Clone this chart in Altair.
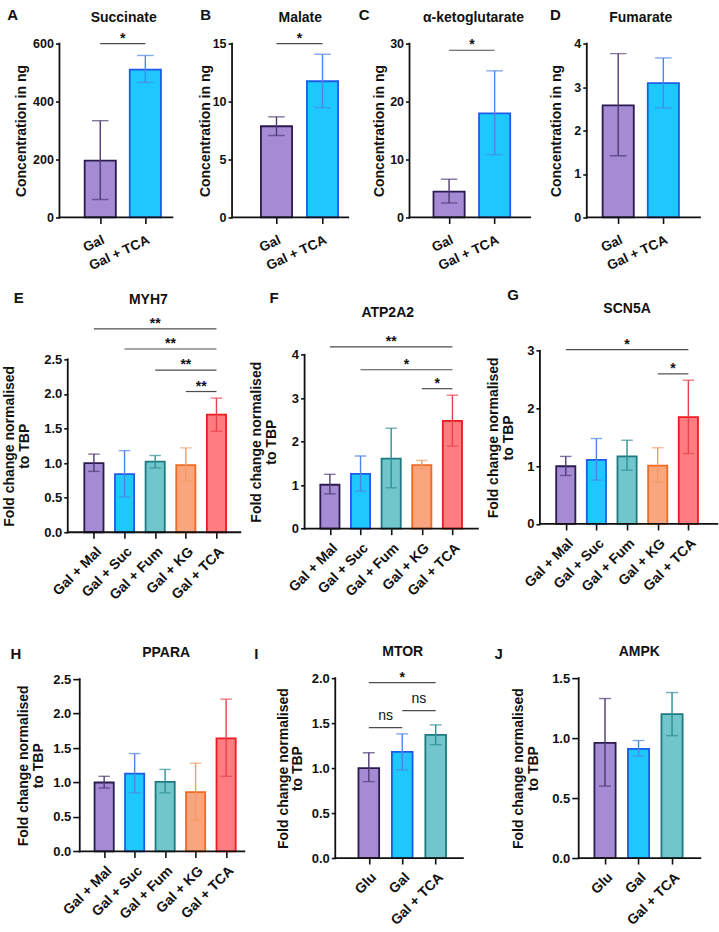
import json

import altair as alt
import pandas as pd

FONT = "Liberation Sans"
INK = "#111111"
BRACKET = "#4d4d4d"

# ---------------- values ----------------
metab_groups = ["Gal", "Gal + TCA"]
succinate_mean = [196, 510]
succinate_lo = [62, 466]
succinate_hi = [334, 559]
malate_mean = [7.87, 11.75]
malate_lo = [7.07, 9.48]
malate_hi = [8.68, 14.08]
akg_mean = [4.45, 17.95]
akg_lo = [2.50, 10.85]
akg_hi = [6.60, 25.30]
fumarate_mean = [2.58, 3.09]
fumarate_lo = [1.42, 2.52]
fumarate_hi = [3.77, 3.67]

supp_groups = ["Gal + Mal", "Gal + Suc", "Gal + Fum", "Gal + KG", "Gal + TCA"]
myh7_mean = [1.00, 0.84, 1.02, 0.97, 1.70]
myh7_lo = [0.88, 0.51, 0.93, 0.74, 1.46]
myh7_hi = [1.13, 1.18, 1.11, 1.22, 1.94]
atp2a2_mean = [1.01, 1.26, 1.61, 1.46, 2.48]
atp2a2_lo = [0.80, 0.86, 0.94, 1.38, 1.90]
atp2a2_hi = [1.25, 1.67, 2.31, 1.57, 3.07]
scn5a_mean = [1.00, 1.11, 1.17, 1.01, 1.85]
scn5a_lo = [0.84, 0.76, 0.93, 0.73, 1.22]
scn5a_hi = [1.17, 1.48, 1.45, 1.32, 2.49]
ppara_mean = [1.00, 1.13, 1.01, 0.86, 1.64]
ppara_lo = [0.92, 0.85, 0.85, 0.45, 1.09]
ppara_hi = [1.09, 1.42, 1.19, 1.28, 2.21]

media_groups = ["Glu", "Gal", "Gal + TCA"]
mtor_mean = [1.00, 1.18, 1.37]
mtor_lo = [0.85, 0.98, 1.26]
mtor_hi = [1.17, 1.38, 1.48]
ampk_mean = [0.96, 0.91, 1.20]
ampk_lo = [0.60, 0.85, 1.02]
ampk_hi = [1.33, 0.98, 1.38]

# significance brackets: (first bar, second bar, bracket height, label)
succinate_sig = [(0, 1, 600, "*")]
malate_sig = [(0, 1, 15, "*")]
akg_sig = [(0, 1, 28.85, "*")]
fumarate_sig = []
myh7_sig = [(0, 4, 2.94, "**"), (1, 4, 2.65, "**"), (2, 4, 2.345, "**"), (3, 4, 2.035, "**")]
atp2a2_sig = [(0, 4, 4.18, "**"), (1, 4, 3.655, "*"), (3, 4, 3.22, "*")]
scn5a_sig = [(0, 4, 3.02, "*"), (3, 4, 2.60, "*")]
ppara_sig = []
mtor_sig = [(0, 2, 1.95, "*"), (1, 2, 1.64, "ns"), (0, 1, 1.45, "ns")]
ampk_sig = []

# ---------------- styling ----------------
# (fill, outline, error bar)
PURPLE = ("#a58ad4", "#2b1b4e", "#4e3b73")
BLUE = ("#1ec8fd", "#1d5ce8", "#4a86e6")
TEAL = ("#70c6ca", "#1e7a80", "#2f8f94")
ORANGE = ("#f9a57e", "#f06a1f", "#f39a66")
RED = ("#ff7d80", "#f01820", "#e6424c")

CONC = "Concentration in ng"
FOLD = ["Fold change normalised", "to TBP"]

ROW1 = dict(ax_top=43.3, ax_bot=217.3, bw=33, cap=16.5, angle=335, xfs=13.5, yfs=12.5,
            xpad=9, ytick=4, yfmt="d", title_y=21.7, letter_y=19.3)
ROW2 = dict(bw=21, cap=11.5, angle=315, xfs=14, yfs=13, xpad=6, ytick=4, yfmt=".1f")
ROW3 = dict(ROW2, bw=21)

ORIGIN_X = 59.0
# each row's cell top; rows are stacked with flush bounds at a fixed pitch
ROW_PITCH = 306.0
ROW_TOPS = [43.3, 43.3 + ROW_PITCH, 43.3 + 2 * ROW_PITCH]

INDEPENDENT = dict(fill="independent", stroke="independent", color="independent")


def panel(title, letter, groups, mean, lo, hi, palette, sig, ytitle, L):
    n = len(groups)
    W = L["x_end"] - L["x0"]
    H = L["ax_bot"] - L["row_top"]
    ax_rel = L["axis_x"] - L["x0"]
    # linear position scale: bar k sits at c0 + k * step
    d0 = -(L["c0"] - L["x0"]) / L["step"]
    d1 = d0 + W / L["step"]
    unit = (L["ax_bot"] - L["ax_top"]) / L["ymax"]
    xs = alt.Scale(domain=[d0, d1], zero=False, nice=False)
    ys = alt.Scale(domain=[0, H / unit], zero=False, nice=False)

    xaxis = alt.Axis(
        values=list(range(n)), tickCount=n + 1, labelExpr=json.dumps(groups) + "[datum.value]",
        title=None, domain=False, grid=False, tickSize=6, tickWidth=1.6, tickColor=INK,
        labelAngle=L["angle"], labelFont=FONT, labelFontSize=L["xfs"], labelFontWeight="bold",
        labelColor=INK, labelPadding=L["xpad"], labelOverlap=False, labelFlush=False,
    )
    yaxis = alt.Axis(
        values=L["yticks"], tickCount=len(L["yticks"]) + 1, format=L["yfmt"], domain=False,
        grid=False, offset=-ax_rel,
        tickSize=L["ytick"], tickWidth=1.6, tickColor=INK, labelFont=FONT,
        labelFontSize=L["yfs"], labelFontWeight="bold", labelColor=INK, labelPadding=2,
        labelFlush=False, labelOverlap=False, title=ytitle, titleFont=FONT, titleFontSize=14,
        titleFontWeight="bold", titleColor=INK, titleAngle=270, titleAlign="center",
        titleBaseline="alphabetic", titleLineHeight=15, titleX=L["ytx"],
        titleY=(L["ax_top"] + L["ax_bot"]) / 2 - L["row_top"],
    )

    def X(f):
        return alt.X(f, type="quantitative", scale=xs, axis=xaxis)

    def Y(f):
        return alt.Y(f, type="quantitative", scale=ys, axis=yaxis)

    fills = [p[0] for p in palette]
    outlines = [p[1] for p in palette]
    whiskers = [p[2] for p in palette]
    df = pd.DataFrame({"pos": list(range(n)), "group": groups, "mean": mean, "lo": lo, "hi": hi})
    base = alt.Chart(df)
    err_color = alt.Color("group:N", scale=alt.Scale(domain=groups, range=whiskers), legend=None)

    layers = [
        base.mark_bar(orient="vertical", width=L["bw"] - 1.8, strokeWidth=1.8).encode(
            x=X("pos"), y=Y("mean"),
            fill=alt.Fill("group:N", scale=alt.Scale(domain=groups, range=fills), legend=None),
            stroke=alt.Stroke("group:N", scale=alt.Scale(domain=groups, range=outlines), legend=None),
        ),
        base.mark_rule(strokeWidth=1.4).encode(x=X("pos"), y=Y("lo"), y2="hi", color=err_color),
        base.mark_tick(orient="horizontal", size=L["cap"], thickness=1.4).encode(
            x=X("pos"), y=Y("lo"), color=err_color),
        base.mark_tick(orient="horizontal", size=L["cap"], thickness=1.4).encode(
            x=X("pos"), y=Y("hi"), color=err_color),
    ]

    if sig:
        sdf = pd.DataFrame(sig, columns=["a", "b", "level", "label"])
        sdf["mid"] = (sdf["a"] + sdf["b"]) / 2
        sbase = alt.Chart(sdf)
        layers.append(sbase.mark_rule(strokeWidth=1.2, color=BRACKET).encode(
            x=X("a"), x2="b", y=Y("level")))
        layers.append(sbase.transform_filter("datum.label != 'ns'").mark_text(
            font=FONT, fontSize=14, fontWeight="bold", baseline="alphabetic", dy=-1, color=INK,
        ).encode(x=X("mid"), y=Y("level"), text="label:N"))
        layers.append(sbase.transform_filter("datum.label == 'ns'").mark_text(
            font=FONT, fontSize=14, baseline="alphabetic", dy=-7.5, color=INK,
        ).encode(x=X("mid"), y=Y("level"), text="label:N"))

    # axis lines stop at the top tick
    frame = alt.Chart(pd.DataFrame({"ymax": [L["ymax"]]}))
    layers.append(frame.mark_rule(strokeWidth=1.8, color=INK, strokeCap="square").encode(
        x=alt.value(ax_rel), y=Y("ymax"), y2=alt.datum(0)))
    layers.append(frame.mark_rule(strokeWidth=1.8, color=INK, strokeCap="square").encode(
        x=alt.value(ax_rel), x2=alt.value(W), y=alt.datum(0)))

    # panel heading and letter
    layers.append(alt.Chart(pd.DataFrame({"t": [title]})).mark_text(
        font=FONT, fontSize=14, fontWeight="bold", align="center", baseline="alphabetic", color=INK,
    ).encode(x=alt.value(L["title_x"] - L["x0"]), y=alt.value(L["title_y"] - L["row_top"]), text="t:N"))
    layers.append(alt.Chart(pd.DataFrame({"t": [letter]})).mark_text(
        font=FONT, fontSize=15, fontWeight="bold", align="left", baseline="alphabetic", color=INK,
    ).encode(x=alt.value(L["letter_x"] - L["x0"]), y=alt.value(L["letter_y"] - L["row_top"]), text="t:N"))

    return alt.layer(*layers).properties(width=W, height=H)


def build_row(items, top, spacing):
    x = ORIGIN_X
    charts = []
    for args, L in items:
        L = dict(L, x0=x, row_top=top)
        charts.append(panel(*args, L))
        x = L["x_end"] + spacing
    return alt.hconcat(*charts, spacing=spacing, bounds="flush").resolve_scale(**INDEPENDENT)


two = [PURPLE, BLUE]
five = [PURPLE, BLUE, TEAL, ORANGE, RED]
three = [PURPLE, BLUE, TEAL]

row1 = build_row([
    (("Succinate", "A", metab_groups, succinate_mean, succinate_lo, succinate_hi, two, succinate_sig, CONC),
     dict(ROW1, axis_x=59.0, x_end=172.0, c0=98.3, step=49.5, ymax=600, yticks=[0, 200, 400, 600],
          ytx=-34, title_x=123.3, letter_x=6.7)),
    (("Malate", "B", metab_groups, malate_mean, malate_lo, malate_hi, two, malate_sig, CONC),
     dict(ROW1, axis_x=231.7, x_end=348.0, c0=275.0, step=50.3, ymax=15, yticks=[0, 5, 10, 15],
          ytx=-22.4, title_x=300.0, letter_x=200.0)),
    (("α-ketoglutarate", "C", metab_groups, akg_mean, akg_lo, akg_hi, two, akg_sig, CONC),
     dict(ROW1, axis_x=409.3, x_end=530.0, c0=447.2, step=49.6, ymax=30, yticks=[0, 10, 20, 30],
          ytx=-26, title_x=473.3, letter_x=358.5)),
    (("Fumarate", "D", metab_groups, fumarate_mean, fumarate_lo, fumarate_hi, two, fumarate_sig, CONC),
     dict(ROW1, axis_x=586.7, x_end=700.0, c0=615.6, step=49.6, ymax=4, yticks=[0, 1, 2, 3, 4],
          ytx=-26.7, title_x=640.7, letter_x=550.0)),
], ROW_TOPS[0], 58)

row2 = build_row([
    (("MYH7", "E", supp_groups, myh7_mean, myh7_lo, myh7_hi, five, myh7_sig, FOLD),
     dict(ROW2, axis_x=67.3, x_end=240.0, ax_top=359.3, ax_bot=532.3, c0=90.2, step=32.45, ymax=2.5,
          yticks=[0, 0.5, 1.0, 1.5, 2.0, 2.5], ytx=-53.8, title_x=148.0, title_y=304.0,
          letter_x=13.3, letter_y=303.0)),
    (("ATP2A2", "F", supp_groups, atp2a2_mean, atp2a2_lo, atp2a2_hi, five, atp2a2_sig, FOLD),
     dict(ROW2, axis_x=304.3, x_end=477.7, ax_top=354.7, ax_bot=528.7, c0=326.0, step=32.5, ymax=4,
          yticks=[0, 1, 2, 3, 4], yfmt="d", ytx=-44.3, title_x=387.5, title_y=316.7,
          letter_x=269.3, letter_y=303.0)),
    (("SCN5A", "G", supp_groups, scn5a_mean, scn5a_lo, scn5a_hi, five, scn5a_sig, FOLD),
     dict(ROW2, axis_x=539.5, x_end=717.0, ax_top=350.7, ax_bot=524.0, c0=561.6, step=32.5, ymax=3,
          yticks=[0, 1, 2, 3], yfmt="d", ytx=-42.8, title_x=626.7, title_y=312.5,
          letter_x=506.7, letter_y=300.0)),
], ROW_TOPS[1], 62)

row3 = build_row([
    (("PPARA", "H", supp_groups, ppara_mean, ppara_lo, ppara_hi, five, ppara_sig, FOLD),
     dict(ROW3, axis_x=79.3, x_end=244.0, ax_top=679.3, ax_bot=851.7, c0=101.0, step=32.25, ymax=2.5,
          yticks=[0, 0.5, 1.0, 1.5, 2.0, 2.5], ytick=7, ytx=-52.6, title_x=165.8, title_y=657.5,
          letter_x=10.0, letter_y=659.0)),
    (("MTOR", "I", media_groups, mtor_mean, mtor_lo, mtor_hi, three, mtor_sig, FOLD),
     dict(ROW3, axis_x=335.0, x_end=462.7, ax_top=678.3, ax_bot=858.3, c0=366.0, step=36.3, ymax=2.0,
          yticks=[0, 0.5, 1.0, 1.5, 2.0], bw=22.5, cap=12, ytx=-48.3, title_x=402.5, title_y=656.0,
          letter_x=254.0, letter_y=659.0)),
    (("AMPK", "J", media_groups, ampk_mean, ampk_lo, ampk_hi, three, ampk_sig, FOLD),
     dict(ROW3, axis_x=578.3, x_end=700.0, ax_top=678.3, ax_bot=858.3, c0=603.0, step=36.0, ymax=1.5,
          yticks=[0, 0.5, 1.0, 1.5], bw=23, cap=12, ytick=7, ytx=-56.6, title_x=639.0, title_y=656.0,
          letter_x=494.0, letter_y=659.0)),
], ROW_TOPS[2], 91)

chart = (
    alt.vconcat(row1, row2, row3, spacing=ROW_PITCH, bounds="flush")
    .resolve_scale(**INDEPENDENT)
    .properties(padding={"left": 2.5, "top": 7.3, "right": 0, "bottom": 0}, background="white")
    .configure_view(stroke=None)
)

chart.save("out.html", embed_options={"renderer": "svg", "actions": False})
